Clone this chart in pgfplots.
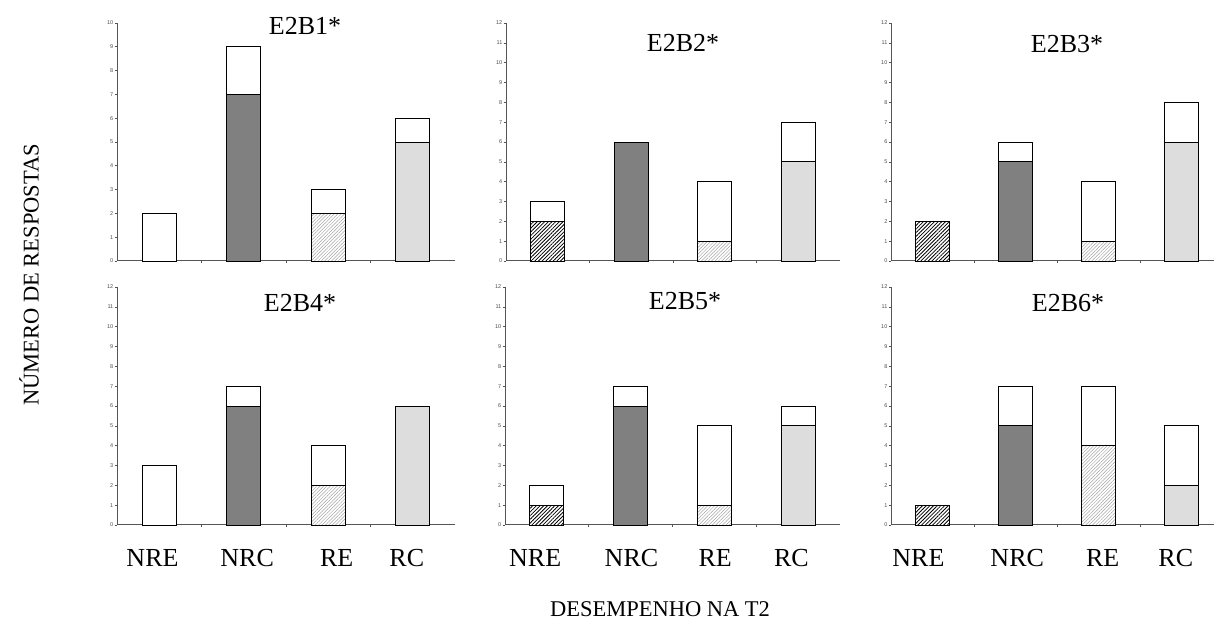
\documentclass[border=0pt]{standalone}
\usepackage{fontspec}
\setmainfont{Liberation Serif}
\newfontfamily\tickfont{Liberation Sans}
\usepackage{pgfplots}
\pgfplotsset{compat=1.18}
\usetikzlibrary{patterns,patterns.meta}

\definecolor{darkbar}{HTML}{808080}
\definecolor{lightbar}{HTML}{DDDDDD}
\definecolor{axisgray}{HTML}{555555}

\pgfplotsset{
 panel/.style={
  scale only axis, anchor=south west, height=238pt,
  ymin=0, xmin=-0.5, xmax=3.5,
  ybar, bar width=34pt,
  separate axis lines, axis x line*=bottom, axis y line*=left,
  axis line style={-, draw=axisgray, line width=1pt},
  xtick={0.5,1.5,2.5}, xticklabels={},
  tick align=outside, major tick length=2.5pt,
  tick style={draw=axisgray, line width=0.6pt},
  ticklabel style={font=\tickfont\fontsize{5.5}{6}\selectfont, text=gray!60!black},
  /pgf/number format/assume math mode=true,
  yticklabel style={inner sep=1pt},
  clip=false,
 },
 tot/.style={fill=white, draw=black, line width=0.9pt, bar shift=0pt},
 nre/.style={draw=black, line width=0.9pt, bar shift=0pt, pattern={Lines[angle=45,distance=2.6pt,line width=0.8pt]}, pattern color=black},
 nrc/.style={fill=darkbar, draw=black, line width=0.9pt, bar shift=0pt},
 re/.style={draw=black, line width=0.9pt, bar shift=0pt, pattern={Lines[angle=45,distance=2.4pt,line width=0.5pt]}, pattern color=gray!70},
 rc/.style={fill=lightbar, draw=black, line width=0.9pt, bar shift=0pt},
 catlabels/.style={extra x ticks={#1}, extra x tick labels={NRE,NRC,RE,RC}, extra x tick style={major tick length=0pt, tick label style={font=\fontsize{26}{30}\selectfont, text=black, inner sep=0pt, yshift=-24pt}}},
}

\begin{document}
\begin{tikzpicture}
\path[use as bounding box] (0pt,0pt) rectangle (1214pt,623pt);

% ---- top row ----
\begin{axis}[panel, at={(117pt,362pt)}, width=338pt, ymax=10, ytick={0,...,10}]
\addplot[tot] coordinates {(0,2) (1,9) (2,3) (3,6)};
\addplot[nrc] coordinates {(1,7)};
\addplot[re] coordinates {(2,2)};
\addplot[rc] coordinates {(3,5)};
\end{axis}

\begin{axis}[panel, at={(506pt,362pt)}, width=334pt, ymax=12, ytick={0,...,12}]
\addplot[tot] coordinates {(0,3) (1,6) (2,4) (3,7)};
\addplot[nre] coordinates {(0,2)};
\addplot[nrc] coordinates {(1,6)};
\addplot[re] coordinates {(2,1)};
\addplot[rc] coordinates {(3,5)};
\end{axis}

\begin{axis}[panel, at={(891pt,362pt)}, width=323pt, xmax=3.39, ymax=12, ytick={0,...,12}]
\addplot[tot] coordinates {(0,2) (1,6) (2,4) (3,8)};
\addplot[nre] coordinates {(0,2)};
\addplot[nrc] coordinates {(1,5)};
\addplot[re] coordinates {(2,1)};
\addplot[rc] coordinates {(3,6)};
\end{axis}

% ---- bottom row ----
\begin{axis}[panel, at={(117pt,98pt)}, width=338pt, ymax=12, ytick={0,...,12}, catlabels={-0.08,1.04,2.1,2.93}]
\addplot[tot] coordinates {(0,3) (1,7) (2,4) (3,6)};
\addplot[nrc] coordinates {(1,6)};
\addplot[re] coordinates {(2,2)};
\addplot[rc] coordinates {(3,6)};
\end{axis}

\begin{axis}[panel, at={(505pt,98pt)}, width=335pt, ymax=12, ytick={0,...,12}, catlabels={-0.14,1.01,2.01,2.92}]
\addplot[tot] coordinates {(0,2) (1,7) (2,5) (3,6)};
\addplot[nre] coordinates {(0,1)};
\addplot[nrc] coordinates {(1,6)};
\addplot[re] coordinates {(2,1)};
\addplot[rc] coordinates {(3,5)};
\end{axis}

\begin{axis}[panel, at={(891pt,98pt)}, width=323pt, xmax=3.39, ymax=12, ytick={0,...,12}, catlabels={-0.17,1.02,2.05,2.93}]
\addplot[tot] coordinates {(0,1) (1,7) (2,7) (3,5)};
\addplot[nre] coordinates {(0,1)};
\addplot[nrc] coordinates {(1,5)};
\addplot[re] coordinates {(2,4)};
\addplot[rc] coordinates {(3,2)};
\end{axis}

% ---- titles ----
\begin{scope}[every node/.style={font=\fontsize{26}{30}\selectfont, anchor=base, inner sep=0pt}]
\node at (305pt,588pt) {E2B1*};
\node at (683pt,571pt) {E2B2*};
\node at (1067pt,570pt) {E2B3*};
\node at (300pt,311pt) {E2B4*};
\node at (685pt,313pt) {E2B5*};
\node at (1068pt,311pt) {E2B6*};
\end{scope}

% ---- axis titles ----
\node[font=\fontsize{22.5}{26}\selectfont, rotate=90, inner sep=0pt] at (29pt,348pt) {NÚMERO DE RESPOSTAS};
\node[font=\fontsize{22.5}{26}\selectfont, anchor=base, inner sep=0pt] at (660pt,6pt) {DESEMPENHO NA T2};
\end{tikzpicture}
\end{document}
